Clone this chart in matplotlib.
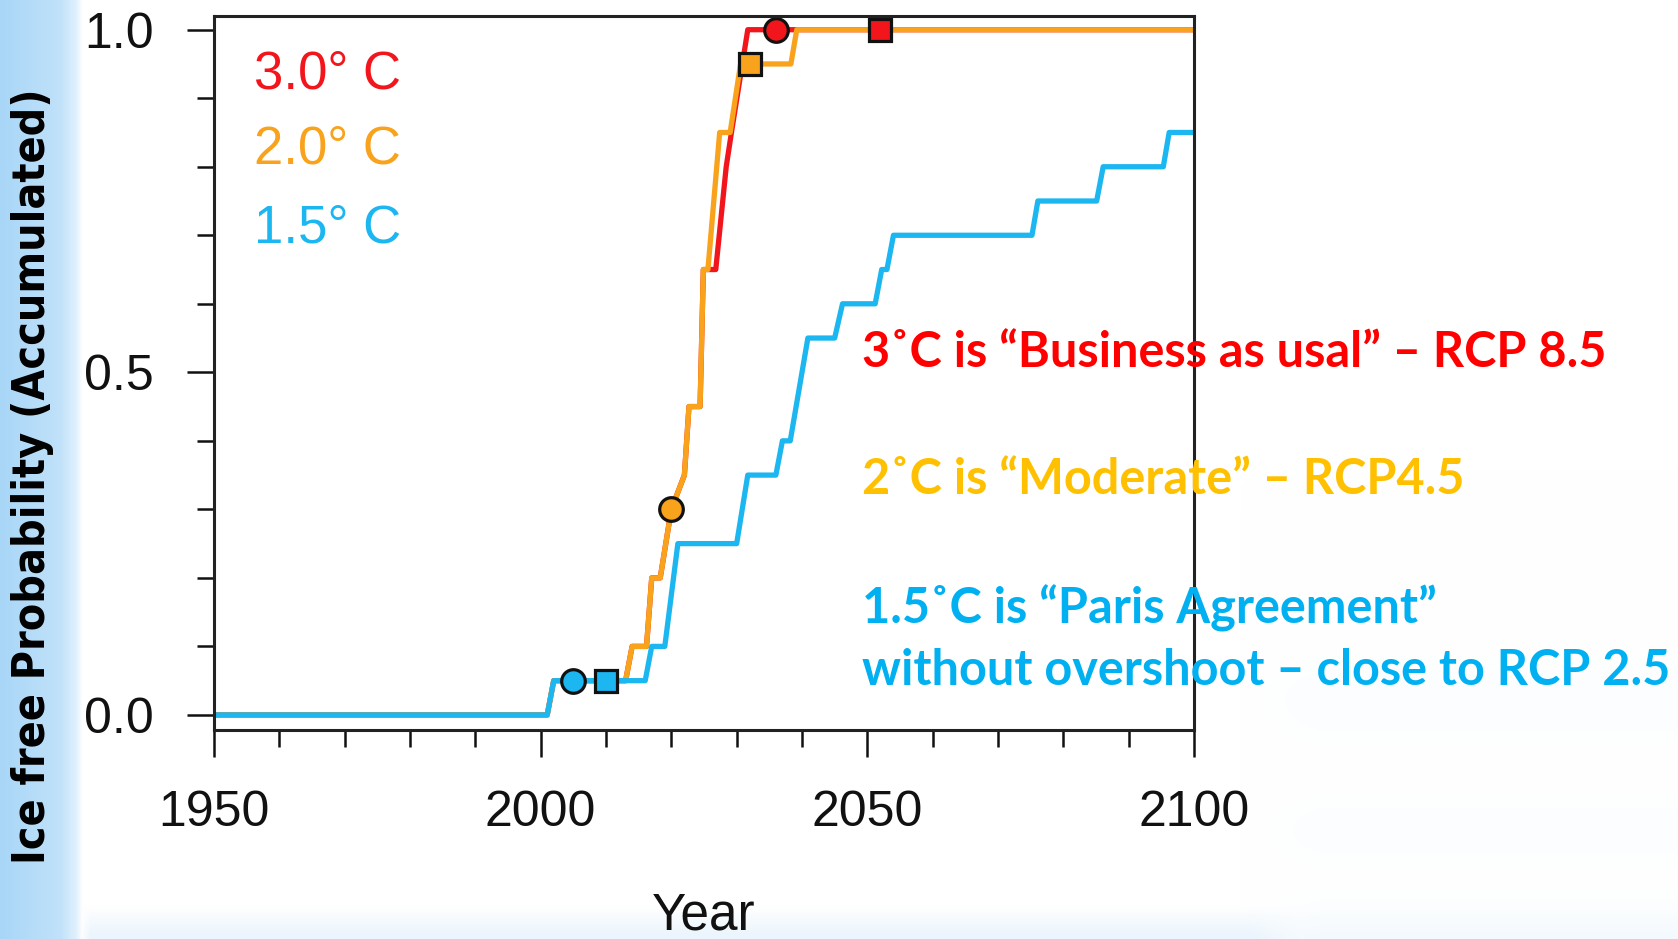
## Ice free probability chart (accumulated), 1.5 / 2.0 / 3.0 deg C
import numpy as np
import matplotlib
matplotlib.use("Agg")
import matplotlib.pyplot as plt
from matplotlib import font_manager
from matplotlib.ticker import MultipleLocator, FormatStrFormatter

# values (year, accumulated probability)
years_15 = [1950, 2001, 2002, 2016, 2017, 2019, 2021, 2030, 2031.7, 2036, 2037, 2038.2,
            2040.9, 2045, 2046.2, 2051.2, 2052.2, 2053, 2054, 2075.2, 2076.1, 2085.1,
            2086.1, 2095.3, 2096.2, 2100]
prob_15 = [0, 0, 0.05, 0.05, 0.10, 0.10, 0.25, 0.25, 0.35, 0.35, 0.40, 0.40,
           0.55, 0.55, 0.60, 0.60, 0.65, 0.65, 0.70, 0.70, 0.75, 0.75,
           0.80, 0.80, 0.85, 0.85]

years_20 = [1950, 2001, 2002, 2013, 2014, 2016.2, 2017, 2018.3, 2020, 2022.0, 2022.7,
            2024.4, 2024.9, 2025.6, 2027.4, 2029.0, 2030.6, 2038.3, 2039.2, 2100]
prob_20 = [0, 0, 0.05, 0.05, 0.10, 0.10, 0.20, 0.20, 0.30, 0.35, 0.45,
           0.45, 0.65, 0.65, 0.85, 0.85, 0.95, 0.95, 1.0, 1.0]

years_30 = [1950, 2001, 2002, 2013, 2014, 2016.2, 2017, 2018.3, 2020, 2022.0, 2022.7,
            2024.4, 2024.9, 2026.8, 2028.4, 2029.2, 2031.7, 2100]
prob_30 = [0, 0, 0.05, 0.05, 0.10, 0.10, 0.20, 0.20, 0.30, 0.35, 0.45,
           0.45, 0.65, 0.65, 0.80, 0.85, 1.0, 1.0]

# circle / square markers
circle_15, square_15 = (2005, 0.05), (2010, 0.05)
circle_20, square_20 = (2020, 0.30), (2032, 0.95)
circle_30, square_30 = (2036, 1.0), (2052, 1.0)

labels = ["3.0° C", "2.0° C", "1.5° C"]
notes = ["3˚C is “Business as usal” – RCP 8.5",
         "2˚C is “Moderate” – RCP4.5",
         "1.5˚C is “Paris Agreement”",
         "without overshoot – close to RCP 2.5"]

c_red, c_org, c_cyan = "#f2151c", "#f9a21b", "#1cb6f0"

# condensed bold face for the y label, if one is installed
cond = [f for f in font_manager.fontManager.ttflist
        if f.name == "DejaVu Sans" and f.stretch == "condensed" and f.weight in ("bold", 700)]
if cond:
    ylab_font = dict(family="DejaVu Sans", stretch="condensed", fontsize=32)
else:
    ylab_font = dict(family="Liberation Sans", fontsize=33)

plt.rcParams["font.family"] = ["Liberation Sans", "DejaVu Sans"]

W, H = 1678, 939
fig = plt.figure(figsize=(W / 100, H / 100), dpi=100)

# slide background: blue strip on the left, soft blue on the bottom/right
img = np.ones((H, W, 3))
xs = np.arange(W)
ys = np.arange(H)[:, None]
left = np.interp(xs, [0, 60, 76, 82], [1.0, 0.72, 0.35, 0.0])
blue = np.array([0.66, 0.84, 0.97])
img = img * (1 - left[None, :, None]) + blue * left[None, :, None]
bottom = np.clip((ys - 905) / 30, 0, 1) * np.interp(xs, [80, 90, 1250, 1300], [0, 1, 1, 0.3])[None, :]
img = img * (1 - 0.35 * bottom[..., None]) + np.array([0.78, 0.89, 0.98]) * 0.35 * bottom[..., None]
rfade = np.interp(xs, [1240, 1320], [0, 1])[None, :]
right = rfade * (np.exp(-((ys - 700) / 40.0) ** 2) * 0.07
                 + np.exp(-((ys - 830) / 35.0) ** 2) * 0.06
                 + np.clip((ys - 880) / 60, 0, 1) * 0.12)
img = img * (1 - right[..., None]) + np.array([0.80, 0.90, 0.98]) * right[..., None]
bg = fig.add_axes([0, 0, 1, 1], zorder=-10)
bg.imshow(img, aspect="auto", interpolation="bilinear")
bg.axis("off")

ax = fig.add_axes([214 / W, 1 - 730 / H, 980 / W, 714 / H])
ax.set_facecolor("white")

ax.plot(years_30, prob_30, color=c_red, lw=3.8, zorder=3)
ax.plot(years_20, prob_20, color=c_org, lw=3.8, zorder=4)
ax.plot(years_15, prob_15, color=c_cyan, lw=3.8, zorder=5)

for pt, col in [(circle_15, c_cyan), (circle_20, c_org), (circle_30, c_red)]:
    ax.plot(*pt, "o", ms=17, mfc=col, mec="#111111", mew=2.3, zorder=6, clip_on=False)
for pt, col in [(square_15, c_cyan), (square_20, c_org), (square_30, c_red)]:
    ax.plot(*pt, "s", ms=16, mfc=col, mec="#111111", mew=2.3, zorder=6, clip_on=False)

ax.set_xlim(1950, 2100)
ax.set_ylim(-0.022, 1.020)
ax.xaxis.set_major_locator(MultipleLocator(50))
ax.xaxis.set_minor_locator(MultipleLocator(10))
ax.yaxis.set_major_locator(MultipleLocator(0.5))
ax.yaxis.set_minor_locator(MultipleLocator(0.1))
ax.yaxis.set_major_formatter(FormatStrFormatter("%.1f"))
ax.tick_params(which="major", direction="out", length=19.5, width=1.8, pad=24,
               labelsize=36, colors="#111111")
ax.tick_params(which="minor", direction="out", length=12.5, width=1.8, colors="#111111")
for s in ax.spines.values():
    s.set_linewidth(2.2)
    s.set_color("#222222")
    s.set_zorder(7)

for lab, col, yb in zip(labels, [c_red, c_org, c_cyan], [0.899, 0.793, 0.683]):
    ax.text(0.041, yb, lab, transform=ax.transAxes, color=col, fontsize=38, va="baseline")

fig.text(704 / W, 9 / H, "Year", ha="center", va="baseline", fontsize=37, color="#111111")
fig.text(33 / W, 1 - 476 / H, "Ice free Probability (Accumulated)", rotation=90,
         ha="center", va="center", weight="bold", **ylab_font)

note_cols = ["#ff0000", "#ffc000", "#00b0f0", "#00b0f0"]
note_base = [367, 494, 623, 685]
for txt, col, yb in zip(notes, note_cols, note_base):
    fig.text(862 / W, 1 - yb / H, txt, color=col, fontsize=35, weight="bold",
             family=["Lato", "DejaVu Sans"], va="baseline", zorder=5)

fig.savefig("out.png", dpi=100)
